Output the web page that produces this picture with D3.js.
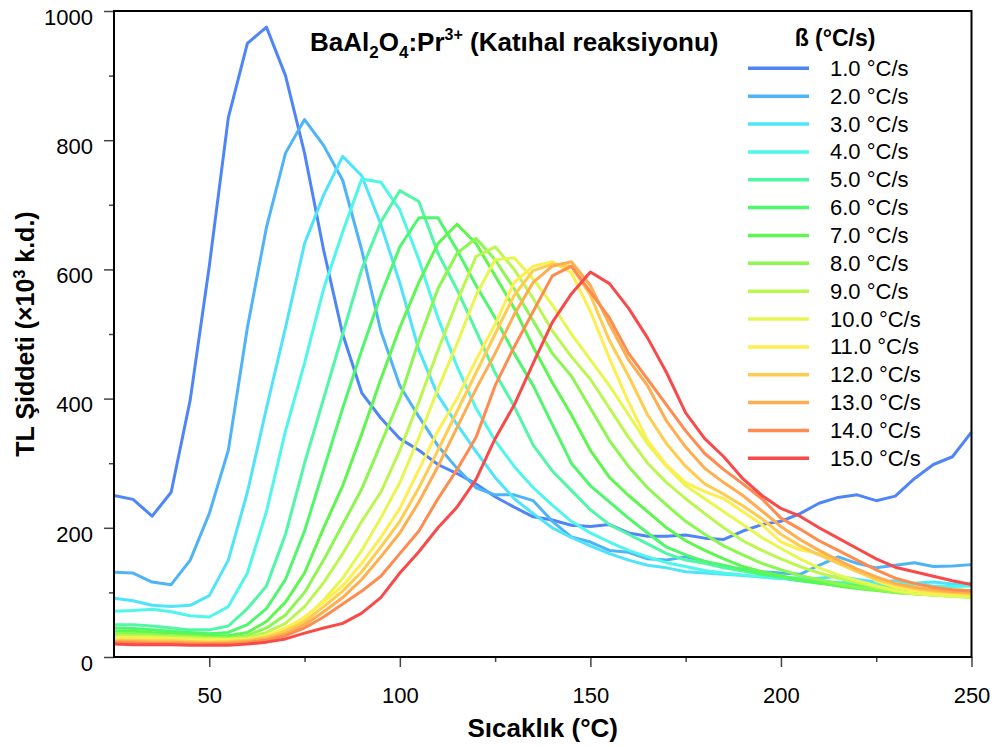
<!doctype html>
<html>
<head>
  <meta charset="utf-8">
  <title>BaAl2O4:Pr3+ TL</title>
  <script src="https://d3js.org/d3.v7.min.js"></script>
  <style>
    body { margin: 0; background: #fff; }
    svg text { font-family: "Liberation Sans", Arial, sans-serif; fill: #000; }
  </style>
</head>
<body>
  <div id="chart"></div>
  <script>
    // temperatures (°C)
    var temps = [25,30,35,40,45,50,55,60,65,70,75,80,85,90,95,100,105,110,115,120,125,130,135,140,145,150,
                 155,160,165,170,175,180,185,190,195,200,205,210,215,220,225,230,235,240,245,250];

    // heating rates and their colours
    var rates = ["1.0","2.0","3.0","4.0","5.0","6.0","7.0","8.0","9.0","10.0","11.0","12.0","13.0","14.0","15.0"];
    var colors = ["#4f86f7","#4fb4f7","#4fe4fb","#4ff7ea","#4ff7a6","#4ff76c","#5ef74f","#8bf74f",
                  "#bbf74f","#e6f74f","#ffee4f","#ffcc4f","#ffad4f","#ff8b4f","#f94a4a"];

    // TL intensity (x10^3 k.d.), one array per rate
    var tl1  = [250,244,218,255,398,605,835,950,975,900,780,630,500,409,370,338,320,298,284,268,248,232,217,212,204,202,205,192,187,187,189,184,182,195,205,210,222,238,247,251,242,249,276,298,310,348];
    var tl2  = [131,130,116,112,150,222,320,510,665,780,832,792,738,630,505,420,372,327,292,262,251,251,242,210,186,178,165,162,152,150,155,148,140,136,132,130,128,142,155,145,138,142,146,140,141,143];
    var tl3  = [91,87,80,78,80,95,150,255,385,510,640,715,775,745,670,579,475,405,360,318,278,245,222,200,185,172,160,150,142,138,132,130,128,126,124,122,118,122,125,120,116,118,114,116,113,114];
    var tl4  = [71,72,74,70,64,62,78,130,225,350,455,570,658,740,735,692,615,525,450,385,335,295,262,235,210,192,178,165,155,146,140,134,130,127,124,121,123,118,115,116,113,111,113,110,109,110];
    var tl5  = [50,50,48,45,42,42,48,75,110,190,300,400,500,600,673,722,705,625,569,505,440,388,328,288,258,228,205,190,175,160,150,145,138,133,128,124,120,117,115,112,110,108,106,105,104,103];
    var tl6  = [45,44,42,40,38,36,38,50,75,120,195,290,385,475,560,635,680,680,630,575,525,470,420,360,300,265,240,215,192,170,158,148,142,135,128,124,118,114,112,110,108,105,104,102,100,100];
    var tl7  = [40,40,38,37,35,33,33,38,55,85,130,200,265,345,430,510,580,640,670,640,590,540,480,425,375,320,278,250,225,200,180,165,152,140,132,126,120,115,110,106,103,100,98,96,95,95];
    var tl8  = [36,36,35,33,32,30,30,33,45,65,100,150,205,260,330,400,490,570,625,648,615,570,520,470,435,385,335,295,262,235,210,190,172,158,145,135,126,120,113,108,104,100,98,96,94,93];
    var tl9  = [33,33,32,31,30,29,28,30,38,52,78,115,160,210,255,320,395,475,550,620,635,600,555,505,465,430,385,340,300,270,245,222,200,180,165,152,140,130,122,115,108,102,98,96,94,92];
    var tl10 = [30,30,30,29,28,27,27,28,32,42,60,88,122,165,215,270,340,415,485,560,615,618,585,545,500,460,420,375,330,295,265,245,225,205,185,168,152,138,127,118,110,103,98,96,94,93];
    var tl11 = [28,28,27,26,25,24,25,27,33,45,62,85,110,145,185,230,290,350,400,460,515,580,605,612,595,535,462,395,335,297,270,256,245,225,205,178,166,160,150,135,118,108,103,99,98,98];
    var tl12 = [26,26,25,25,24,23,24,26,31,40,55,78,102,132,170,210,262,320,380,440,500,560,598,608,605,560,490,435,375,330,295,268,252,234,214,190,172,158,145,132,120,112,106,102,100,98];
    var tl13 = [24,24,23,23,22,21,22,24,28,36,50,70,92,120,155,192,240,295,355,415,470,530,580,605,612,575,515,460,420,365,325,292,270,250,226,202,182,165,150,136,124,114,108,104,101,100];
    var tl14 = [22,22,21,21,20,20,20,22,26,33,45,62,82,102,125,160,195,245,290,340,420,480,535,590,605,565,525,470,430,390,350,315,290,268,245,215,198,180,165,150,135,122,114,108,104,102];
    var tl15 = [20,19,19,19,18,18,18,20,23,28,37,45,52,68,92,130,163,200,232,275,338,390,455,518,562,596,578,540,494,440,378,338,310,276,250,230,218,200,184,168,152,139,132,125,118,112];
    var series = [tl1,tl2,tl3,tl4,tl5,tl6,tl7,tl8,tl9,tl10,tl11,tl12,tl13,tl14,tl15];

    // ticks
    var xMajor = [50,100,150,200,250];
    var xMinor = [75,125,175,225];
    var yMajor = [0,200,400,600,800,1000];
    var yMinor = [100,300,500,700,900];

    var margin = { top: 11, right: 31.5, bottom: 90, left: 114 },
      width = 1003 - margin.left - margin.right,
      height = 747 - margin.top - margin.bottom;

    var svg = d3.select("#chart")
      .append("svg")
      .attr("width", 1003)
      .attr("height", 747)
      .append("g")
      .attr("transform", "translate(" + margin.left + "," + margin.top + ")");

    var x = d3.scaleLinear().domain([25, 250]).range([0, width]);
    var y = d3.scaleLinear().domain([0, 1000]).range([height, 0]);

    // curves
    var line = d3.line()
      .x(function (d, i) { return x(temps[i]); })
      .y(function (d) { return y(d); });

    series.forEach(function (s, k) {
      svg.append("path")
        .datum(s)
        .attr("fill", "none")
        .attr("stroke", colors[k])
        .attr("stroke-width", 3)
        .attr("stroke-linejoin", "round")
        .attr("d", line);
    });

    // axes
    svg.append("g")
      .attr("transform", "translate(0," + height + ")")
      .call(d3.axisBottom(x).tickValues(xMajor).tickSize(10).tickPadding(20).tickSizeOuter(0).tickFormat(d3.format("d")));
    svg.append("g")
      .attr("transform", "translate(0," + height + ")")
      .call(d3.axisBottom(x).tickValues(xMinor).tickSize(5).tickFormat("").tickSizeOuter(0));

    var yAxis = svg.append("g")
      .call(d3.axisLeft(y).tickValues(yMajor).tickSize(10).tickPadding(11).tickSizeOuter(0).tickFormat(d3.format("d")));
    svg.append("g")
      .call(d3.axisLeft(y).tickValues(yMinor).tickSize(5).tickFormat("").tickSizeOuter(0));

    svg.selectAll(".domain").remove();
    svg.selectAll(".tick line").attr("stroke", "#444").attr("stroke-width", 1.5);
    svg.selectAll(".tick text").style("font-size", "22px").style("font-family", "'Liberation Sans', Arial, sans-serif");
    yAxis.selectAll(".tick text").attr("dy", "0.6em");

    // frame
    svg.append("rect")
      .attr("width", width)
      .attr("height", height)
      .attr("fill", "none")
      .attr("stroke", "#000")
      .attr("stroke-width", 2);

    // axis labels
    var yl = svg.append("text")
      .attr("transform", "translate(" + (25 - margin.left) + "," + (height / 2) + ") rotate(-90)")
      .attr("dy", "0.35em")
      .style("text-anchor", "middle")
      .style("font-size", "25px")
      .style("font-weight", "bold");
    yl.append("tspan").text("TL Şiddeti (×10");
    yl.append("tspan").attr("dy", -9).style("font-size", "16px").text("3");
    yl.append("tspan").attr("dy", 9).text(" k.d.)");

    svg.append("text")
      .attr("x", width / 2)
      .attr("y", height + 80)
      .style("text-anchor", "middle")
      .style("font-size", "26px")
      .style("font-weight", "bold")
      .text("Sıcaklık (°C)");

    // title
    var t = svg.append("text")
      .attr("x", 310 - margin.left)
      .attr("y", 51 - margin.top)
      .style("font-size", "26px")
      .style("font-weight", "bold");
    t.append("tspan").text("BaAl");
    t.append("tspan").attr("dy", 7).style("font-size", "17px").text("2");
    t.append("tspan").attr("dy", -7).text("O");
    t.append("tspan").attr("dy", 7).style("font-size", "17px").text("4");
    t.append("tspan").attr("dy", -7).text(":Pr");
    t.append("tspan").attr("dy", -11).style("font-size", "16px").text("3+");
    t.append("tspan").attr("dy", 11).text(" (Katıhal reaksiyonu)");

    // legend
    var legend = svg.append("g")
      .attr("transform", "translate(" + (748 - margin.left) + "," + (68.3 - margin.top) + ")");

    legend.append("text")
      .attr("x", 87)
      .attr("y", -22)
      .style("text-anchor", "middle")
      .style("font-size", "23px")
      .style("font-weight", "bold")
      .text("ß (°C/s)");

    rates.forEach(function (r, i) {
      var row = legend.append("g").attr("transform", "translate(0," + (i * 27.86) + ")");
      row.append("line")
        .attr("x1", 0).attr("x2", 61)
        .attr("stroke", colors[i])
        .attr("stroke-width", 3.5);
      row.append("text")
        .attr("x", 82)
        .attr("y", 7.5)
        .style("font-size", "22px")
        .text(r + " °C/s");
    });
  </script>
</body>
</html>
